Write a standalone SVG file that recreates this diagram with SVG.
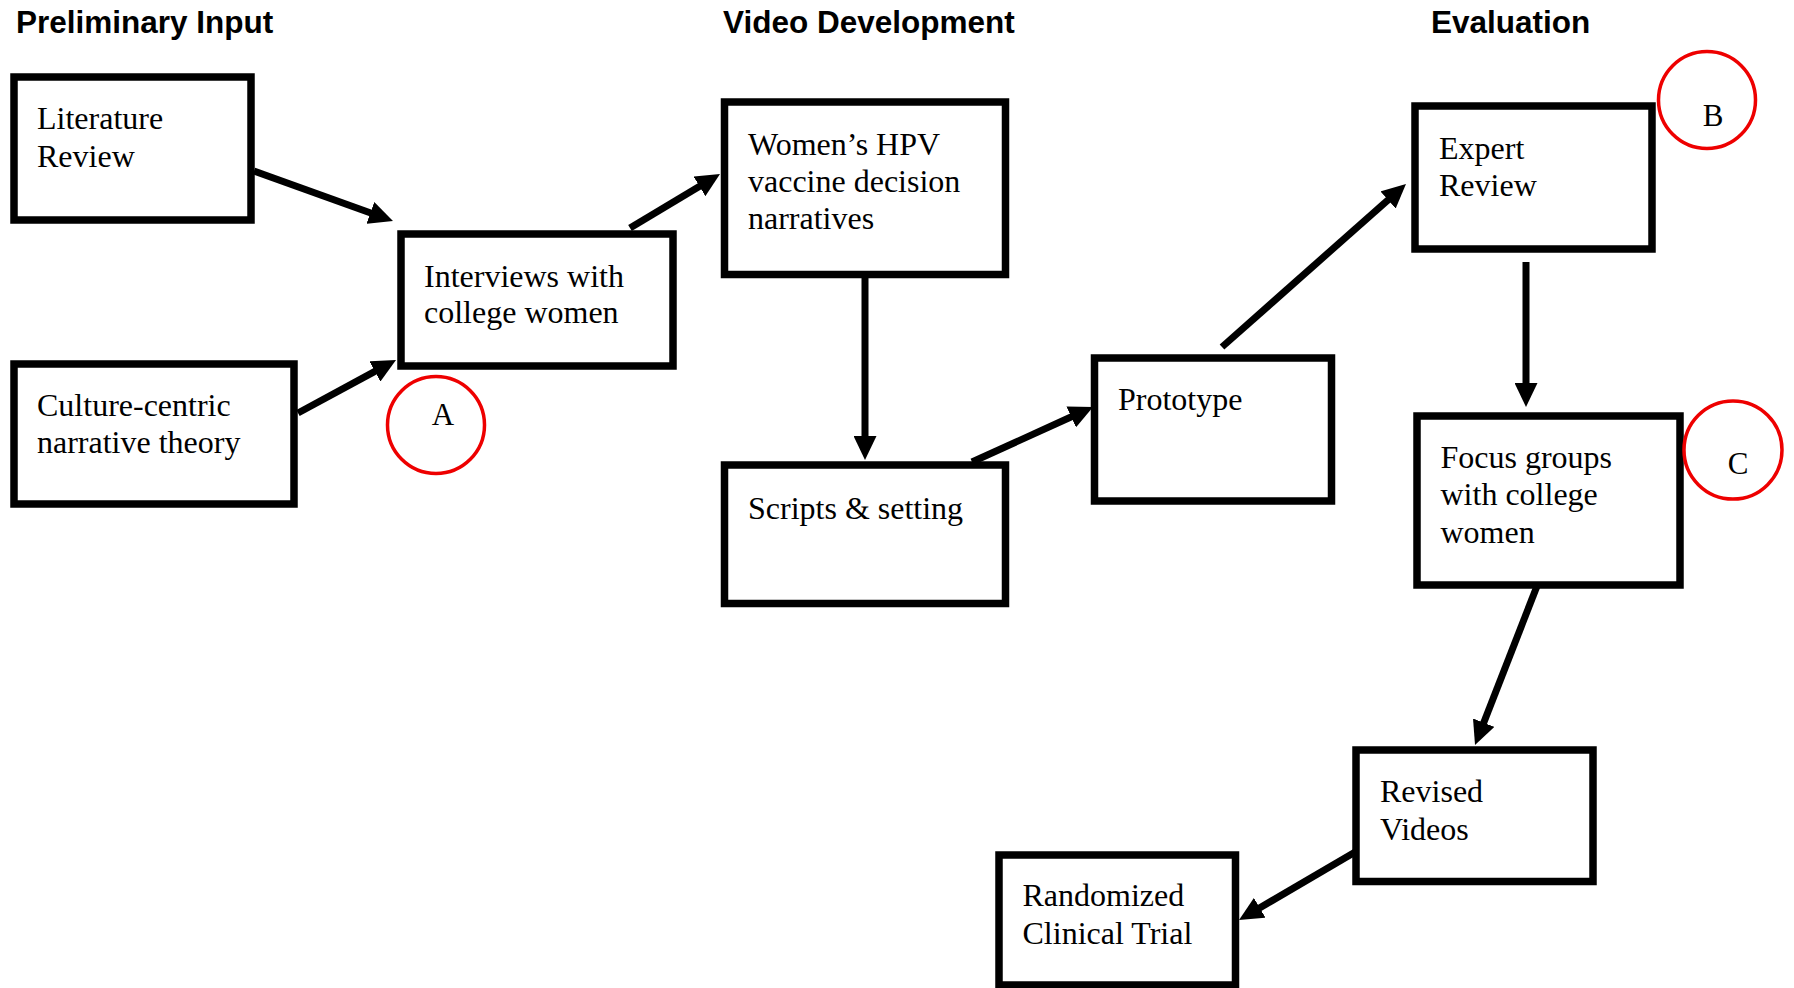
<svg xmlns="http://www.w3.org/2000/svg" width="1794" height="988" viewBox="0 0 1794 988">
  <style>
    .box { fill: #ffffff; stroke: #000000; stroke-width: 7.5; }
    .lbl { font-family: "Liberation Serif", "Times New Roman", serif; font-size: 32px; fill: #000000; }
    .head { font-family: "Liberation Sans", Arial, sans-serif; font-size: 31.5px; font-weight: bold; fill: #000000; }
    .mark { fill: none; stroke: #ee0000; stroke-width: 3.5; }
    .mark-txt { font-family: "Liberation Serif", "Times New Roman", serif; font-size: 31px; fill: #000000; text-anchor: middle; }
    .conn { fill: none; stroke: #000000; stroke-width: 7; marker-end: url(#arrow); }
  </style>
  <defs>
    <marker id="arrow" markerUnits="userSpaceOnUse" markerWidth="24" markerHeight="23" refX="10" refY="11.5" orient="auto">
      <path d="M0,0 L24,11.5 L0,23 z" fill="#000000"/>
    </marker>
  </defs>
  <rect width="1794" height="988" fill="#ffffff"/>

  <!-- phase headings -->
  <g id="headings">
    <text class="head" x="16" y="33">Preliminary Input</text>
    <text class="head" x="723" y="33">Video Development</text>
    <text class="head" x="1431" y="33">Evaluation</text>
  </g>

  <!-- connectors -->
  <g id="connectors">
    <path class="conn" d="M254,171 L379.8,216.3"/>
    <path class="conn" d="M298,413 L383.7,366.7"/>
    <path class="conn" d="M630,228 L708,181.2"/>
    <path class="conn" d="M865,278 L865,446"/>
    <path class="conn" d="M972,462 L1080.3,412.8"/>
    <path class="conn" d="M1222,347 L1395.5,193.3"/>
    <path class="conn" d="M1526,262 L1526,393"/>
    <path class="conn" d="M1539,581 L1480.1,732"/>
    <path class="conn" d="M1362,848 L1251.1,912.9"/>
  </g>

  <!-- nodes -->
  <g id="literature-review">
    <rect class="box" x="14" y="77" width="237" height="143"/>
    <text class="lbl" x="37" y="129">Literature</text>
    <text class="lbl" x="37" y="166.5">Review</text>
  </g>
  <g id="culture-centric">
    <rect class="box" x="14" y="364" width="280" height="140"/>
    <text class="lbl" x="37" y="416">Culture-centric</text>
    <text class="lbl" x="37" y="453">narrative theory</text>
  </g>
  <g id="interviews">
    <rect class="box" x="401" y="234" width="272" height="132"/>
    <text class="lbl" x="424" y="286.5">Interviews with</text>
    <text class="lbl" x="424" y="323">college women</text>
  </g>
  <g id="narratives">
    <rect class="box" x="724.5" y="102" width="281" height="172.5"/>
    <text class="lbl" x="748" y="155">Women’s HPV</text>
    <text class="lbl" x="748" y="191.5">vaccine decision</text>
    <text class="lbl" x="748" y="229">narratives</text>
  </g>
  <g id="scripts">
    <rect class="box" x="724.5" y="465" width="281" height="138.5"/>
    <text class="lbl" x="748" y="518.5">Scripts &amp; setting</text>
  </g>
  <g id="prototype">
    <rect class="box" x="1094.5" y="358" width="237" height="143"/>
    <text class="lbl" x="1118" y="410">Prototype</text>
  </g>
  <g id="expert-review">
    <rect class="box" x="1415" y="106" width="237" height="143"/>
    <text class="lbl" x="1439" y="159">Expert</text>
    <text class="lbl" x="1439" y="196">Review</text>
  </g>
  <g id="focus-groups">
    <rect class="box" x="1417" y="416" width="263" height="169"/>
    <text class="lbl" x="1440.5" y="468">Focus groups</text>
    <text class="lbl" x="1440.5" y="505">with college</text>
    <text class="lbl" x="1440.5" y="543">women</text>
  </g>
  <g id="revised-videos">
    <rect class="box" x="1356" y="750" width="237" height="131.5"/>
    <text class="lbl" x="1380" y="802">Revised</text>
    <text class="lbl" x="1380" y="839.5">Videos</text>
  </g>
  <g id="clinical-trial">
    <rect class="box" x="999" y="855" width="236.5" height="130"/>
    <text class="lbl" x="1022.5" y="906">Randomized</text>
    <text class="lbl" x="1022.5" y="944">Clinical Trial</text>
  </g>

  <!-- lettered callouts -->
  <g id="marker-a">
    <circle class="mark" cx="436" cy="425" r="48.5"/>
    <text class="mark-txt" x="443" y="425">A</text>
  </g>
  <g id="marker-b">
    <circle class="mark" cx="1707" cy="100" r="48.5"/>
    <text class="mark-txt" x="1713" y="126">B</text>
  </g>
  <g id="marker-c">
    <circle class="mark" cx="1733" cy="450" r="49"/>
    <text class="mark-txt" x="1738" y="474">C</text>
  </g>
</svg>
